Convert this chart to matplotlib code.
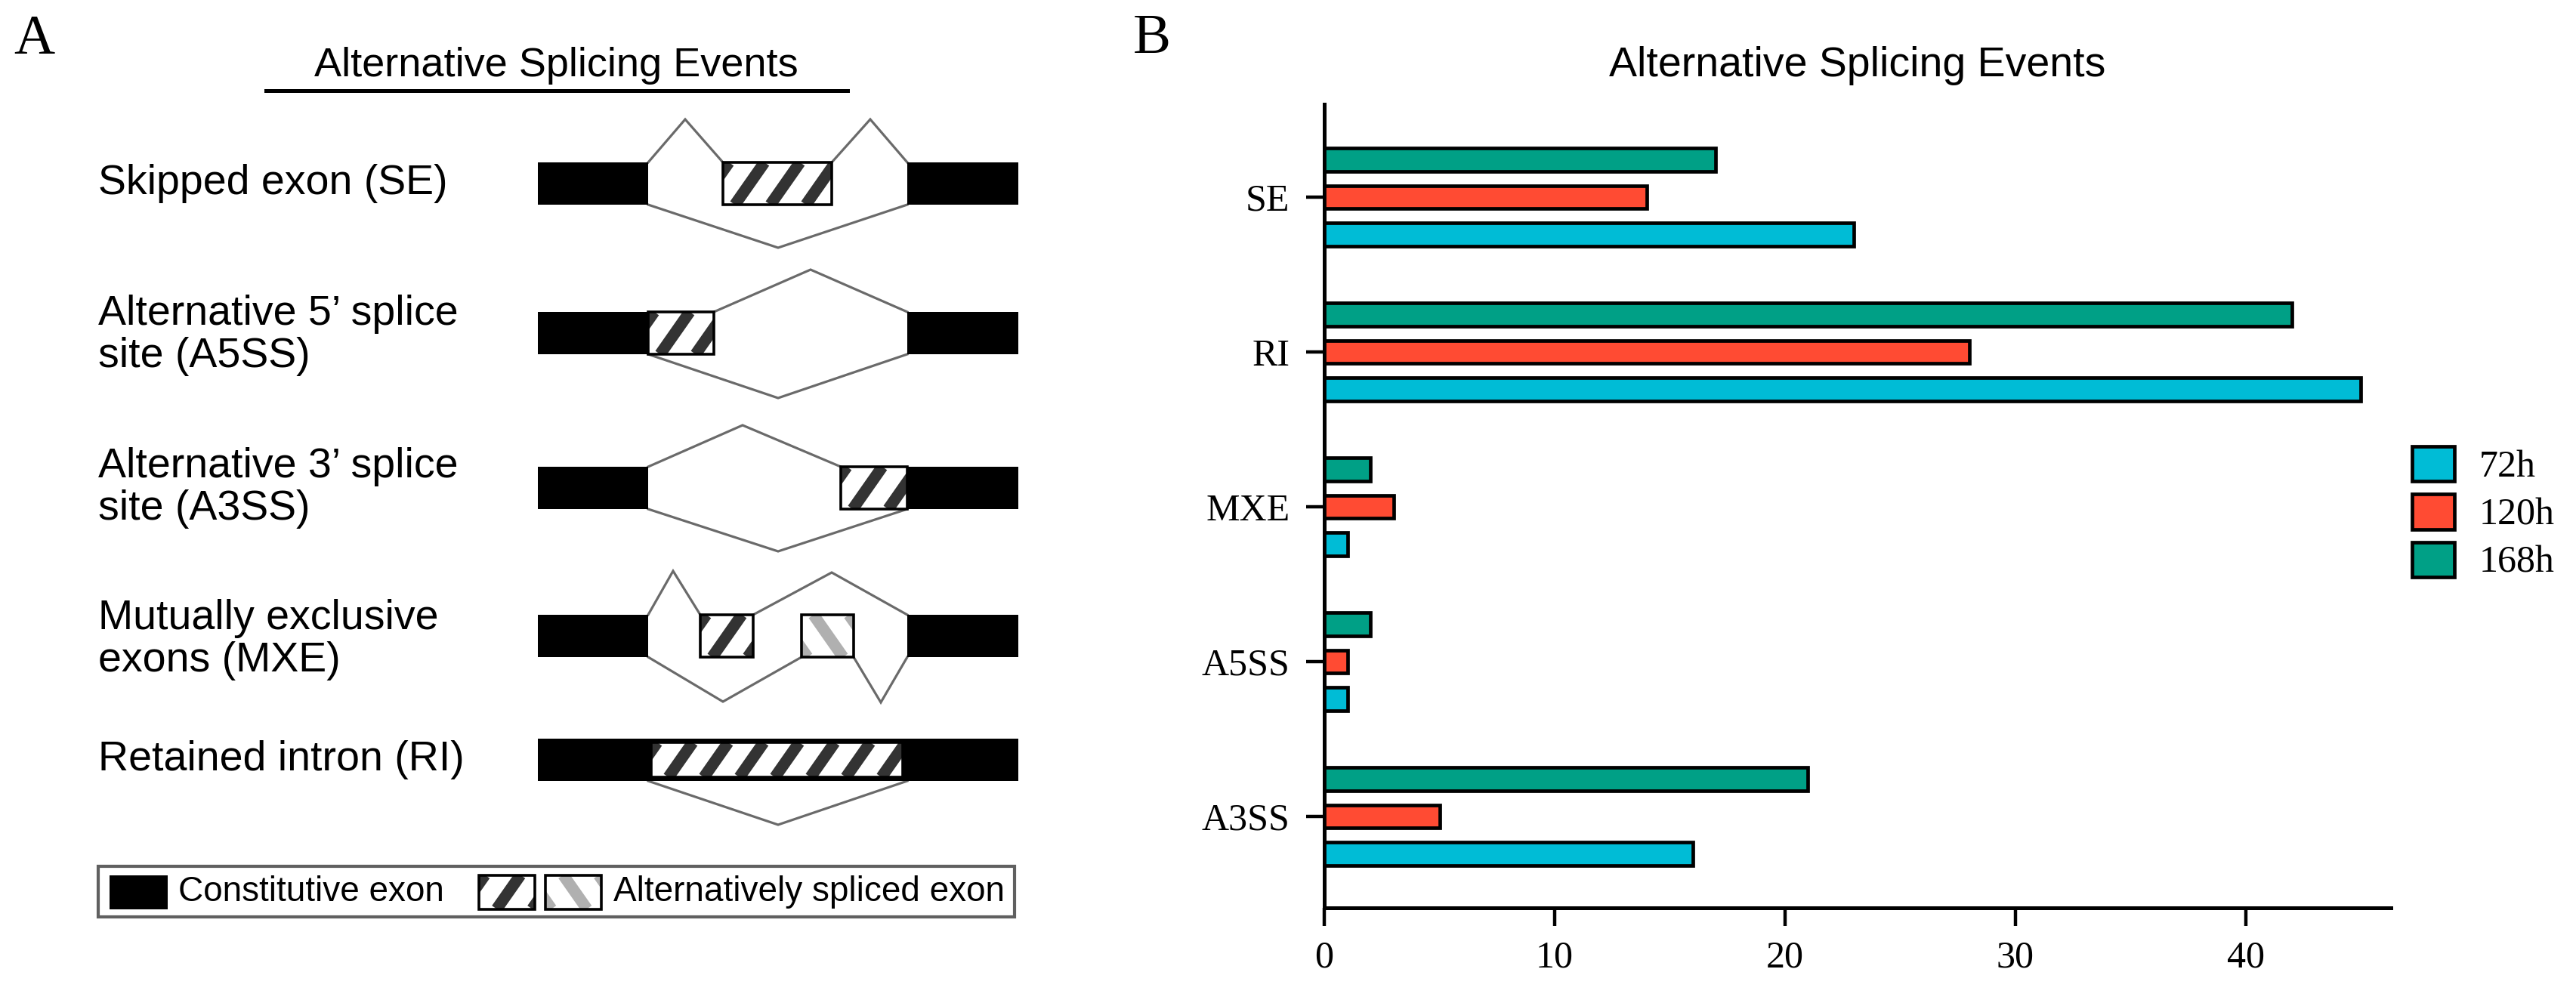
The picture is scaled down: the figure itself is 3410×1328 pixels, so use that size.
import numpy as np
import matplotlib
matplotlib.use("Agg")
import matplotlib.pyplot as plt
from matplotlib.patches import Rectangle
from matplotlib.lines import Line2D

# data for panel B
events = ["A3SS", "A5SS", "MXE", "RI", "SE"]
times = ["72h", "120h", "168h"]
h72 = [16, 1, 1, 45, 23]
h120 = [5, 1, 3, 28, 14]
h168 = [21, 2, 2, 42, 17]
colors = ["#00BCD6", "#FF4B33", "#00A086"]

# row labels of the schematic
row_labels = ["Skipped exon (SE)",
              "Alternative 5\u2019 splice\nsite (A5SS)",
              "Alternative 3\u2019 splice\nsite (A3SS)",
              "Mutually exclusive\nexons (MXE)",
              "Retained intron (RI)"]

SANS = "Liberation Sans"
SERIF = "Liberation Serif"

fig = plt.figure(figsize=(34.1, 13.28), dpi=100)

# ---------- panel A : schematic drawn in pixel coordinates ----------
ax0 = fig.add_axes([0, 0, 1, 1], zorder=0)
ax0.set_xlim(0, 3410)
ax0.set_ylim(1328, 0)
ax0.axis("off")

LINE = "#6a6a6a"
HH = 28            # half height of an exon box
XL0, XL1 = 712, 858    # left constitutive exon
XR0, XR1 = 1201, 1348  # right constitutive exon


def splice(pts):
    xs, ys = zip(*pts)
    ax0.add_line(Line2D(xs, ys, color=LINE, lw=2.3, zorder=1,
                        solid_joinstyle="miter"))


def black_box(x0, x1, yc, hh=HH):
    ax0.add_patch(Rectangle((x0, yc - hh), x1 - x0, 2 * hh, fc="black",
                            ec="black", lw=0, zorder=2))


def hatch_box(x0, x1, yc, hh=HH, color="#333333", back=False):
    bg = Rectangle((x0, yc - hh), x1 - x0, 2 * hh, fc="white", ec="none",
                   zorder=3)
    ax0.add_patch(bg)
    spacing = 47
    dx = 2 * hh / np.tan(np.radians(55))
    for c in np.arange(x0 + 8 - dx - 2 * spacing, x1 + spacing, spacing):
        if back:
            xs, ys = [c, c + dx], [yc - hh, yc + hh]
        else:
            xs, ys = [c, c + dx], [yc + hh, yc - hh]
        ln = Line2D(xs, ys, color=color, lw=11, zorder=4,
                    solid_capstyle="butt")
        ax0.add_line(ln)
        ln.set_clip_path(bg)
    ax0.add_patch(Rectangle((x0, yc - hh), x1 - x0, 2 * hh, fc="none",
                            ec="black", lw=2.6, zorder=5))


# title + underline
ax0.text(736, 87, "Alternative Splicing Events", family=SANS, fontsize=39,
         ha="center", va="center")
ax0.plot([352, 1122], [120, 120], color="black", lw=3.6)

# row labels
label_y = [243, 444, 646, 847, 1006]
for lab, y in zip(row_labels, label_y):
    ax0.text(130, y, lab, family=SANS, fontsize=40, ha="left", va="center",
             linespacing=1.12)

# SE
cy = 243
black_box(XL0, XL1, cy); black_box(XR0, XR1, cy)
hatch_box(957, 1101, cy)
splice([(XL1, cy - HH), (907, cy - 85), (957, cy - HH)])
splice([(1101, cy - HH), (1152, cy - 85), (XR0, cy - HH)])
splice([(XL1, cy + HH), (1030, cy + 85), (XR0, cy + HH)])

# A5SS
cy = 441
black_box(XL0, XL1, cy); black_box(XR0, XR1, cy)
hatch_box(XL1, 945, cy)
splice([(945, cy - HH), (1073, cy - 84), (XR0, cy - HH)])
splice([(XL1, cy + HH), (1030, cy + 86), (XR0, cy + HH)])

# A3SS
cy = 646
black_box(XL0, XL1, cy); black_box(XR0, XR1, cy)
hatch_box(1113, XR0, cy)
splice([(XL1, cy - HH), (983, cy - 83), (1113, cy - HH)])
splice([(XL1, cy + HH), (1030, cy + 84), (XR0, cy + HH)])

# MXE
cy = 842
black_box(XL0, XL1, cy); black_box(XR0, XR1, cy)
hatch_box(927, 997, cy)
hatch_box(1061, 1130, cy, color="#b0b0b0", back=True)
splice([(XL1, cy - HH), (891, cy - 86), (927, cy - HH)])
splice([(997, cy - HH), (1101, cy - 84), (XR0, cy - HH)])
splice([(XL1, cy + HH), (957, cy + 87), (1061, cy + HH)])
splice([(1130, cy + HH), (1166, cy + 88), (XR0, cy + HH)])

# RI
cy = 1006
black_box(XL0, XR1, cy)
hatch_box(862, 1195, cy, hh=23)
splice([(XL1, cy + HH), (1030, cy + 86), (XR0, cy + HH)])

# legend box of the schematic
ax0.add_patch(Rectangle((130, 1147), 1213, 67, fc="none", ec="#606060",
                        lw=3))
black_box(145, 222, 1181, hh=22.5)
ax0.text(236, 1181, "Constitutive exon", family=SANS, fontsize=33,
         ha="left", va="center")
hatch_box(634, 708, 1181, hh=22.5)
hatch_box(722, 796, 1181, hh=22.5, color="#b0b0b0", back=True)
ax0.text(812, 1181, "Alternatively spliced exon", family=SANS, fontsize=33,
         ha="left", va="center")

fig.text(18 / 3410, 1 - 53 / 1328, "A", family=SERIF, fontsize=54,
         ha="left", va="center")
fig.text(1500 / 3410, 1 - 52 / 1328, "B", family=SERIF, fontsize=54,
         ha="left", va="center")

# ---------- panel B : grouped horizontal bars ----------
ax = fig.add_axes([0.5141, 0.0949, 0.414, 0.8012], zorder=1)
ax.patch.set_alpha(0)
y = np.arange(len(events))
step = 0.24
for vals, lab, col, off in zip([h72, h120, h168], times, colors,
                               [-step, 0, step]):
    ax.barh(y + off, vals, height=0.15, color=col, edgecolor="black",
            linewidth=3.4, label=lab, zorder=3)

ax.set_ylim(-0.59, 4.6)
ax.set_xlim(0, 46.3)
ax.set_yticks(y)
ax.set_yticklabels(events)
ax.set_xticks([0, 10, 20, 30, 40])
for s in ["top", "right"]:
    ax.spines[s].set_visible(False)
for s in ["left", "bottom"]:
    ax.spines[s].set_linewidth(3.6)
ax.tick_params(axis="both", length=17, width=3.2, direction="out",
               labelsize=36)
ax.tick_params(axis="y", pad=16)
ax.tick_params(axis="x", pad=14)
for t in ax.get_xticklabels() + ax.get_yticklabels():
    t.set_family(SERIF)

fig.text(0.5141 + 0.414 / 2, 1 - 87 / 1328, "Alternative Splicing Events",
         family=SANS, fontsize=40, ha="center", va="center")

ax.legend(loc="center left", bbox_to_anchor=(3193 / 3410, 1 - 680 / 1328),
          bbox_transform=fig.transFigure, frameon=False,
          prop={"family": SERIF, "size": 36}, handlelength=1.12,
          handleheight=1.04, labelspacing=0.24, handletextpad=0.66,
          borderpad=0, borderaxespad=0)

fig.savefig("out.png", dpi=100)
